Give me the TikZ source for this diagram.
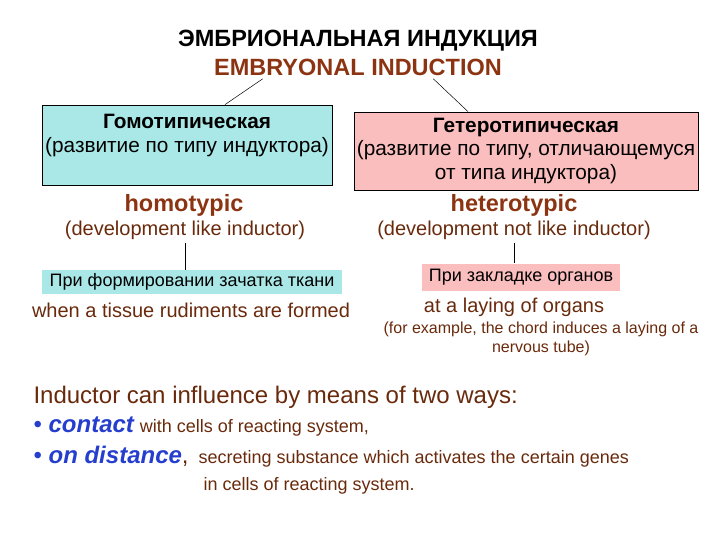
\documentclass[tikz,border=0pt]{standalone}
\usepackage{fontspec}
\setmainfont{Liberation Sans}
\usetikzlibrary{positioning}

\definecolor{brownTxt}{RGB}{105,42,12}
\definecolor{titleBrown}{RGB}{140,52,18}
\definecolor{blueTxt}{RGB}{38,62,205}
\definecolor{cyanFill}{RGB}{170,232,232}
\definecolor{pinkFill}{RGB}{250,190,190}

\tikzset{
  bigbox/.style={draw=black, line width=0.8pt, align=center, inner sep=0pt,
    font=\fontsize{20.8}{23.5}\selectfont},
  smallbox/.style={inner sep=0pt, font=\fontsize{18}{20}\selectfont},
  kind/.style={text=titleBrown, font=\bfseries\fontsize{23.5}{26}\selectfont},
  note/.style={text=brownTxt, font=\fontsize{20}{23}\selectfont},
  link/.style={draw=black, line width=0.5pt}
}

\begin{document}
\begin{tikzpicture}[x=1pt, y=-1pt]
\useasboundingbox (0,0) rectangle (720,540);

% заголовок
\node[font=\bfseries\fontsize{23.5}{26}\selectfont] (title) at (358,41) {ЭМБРИОНАЛЬНАЯ ИНДУКЦИЯ};
\node[text=titleBrown, font=\bfseries\fontsize{23.5}{26}\selectfont] (entitle) at (358,67) {EMBRYONAL INDUCTION};

% два вида индукции
\node[bigbox, fill=cyanFill, minimum width=290, minimum height=80] (homo) at (187,145)
  {\textbf{Гомотипическая}\\(развитие по типу индуктора)\\\mbox{}};
\node[bigbox, fill=pinkFill, minimum width=344, minimum height=78] (hetero) at (526,151)
  {\textbf{Гетеротипическая}\\(развитие по типу, отличающемуся\\от типа индуктора)};

% линии от заголовка
\draw[link] ([xshift=52pt]entitle.south west) -- ([xshift=38pt]homo.north);
\draw[link] ([xshift=-72pt]entitle.south east) -- ([xshift=-58pt]hetero.north);

% английские подписи
\node[kind] (homoname) at (184,205) {homotypic};
\node[note] (homodev) at (185,230) {(development like inductor)};
\node[kind] (heteroname) at (514,205) {heterotypic};
\node[note] (heterodev) at (514,230) {(development not like inductor)};

% когда происходит
\node[smallbox, fill=cyanFill, minimum width=300, minimum height=24] (form) at (192,282)
  {При формировании зачатка ткани};
\node[note] (formen) at (191,310) {when a tissue rudiments are formed};
\node[smallbox, fill=pinkFill, minimum width=198, minimum height=27] (organ) at (521,277)
  {При закладке органов};
\node[note] (organen) at (514,307) {at a laying of organs};
\node[text=brownTxt, align=center, font=\fontsize{16}{19}\selectfont] (example) at (541,339)
  {(for example, the chord induces a laying of a\\nervous tube)};

\draw[link] (homodev.south) -- (homodev.south |- form.north);
\draw[link] (heterodev.south) -- (heterodev.south |- organ.north);

% способы влияния индуктора
\node[anchor=west, text=brownTxt, font=\fontsize{24}{28}\selectfont] (ways) at (30,397)
  {Inductor can influence by means of two ways:};
\node[anchor=west, text=brownTxt, font=\fontsize{18}{21}\selectfont] (contact) at (30,427)
  {\textcolor{blueTxt}{\fontsize{24}{28}\selectfont • \textbf{\textit{contact}}} with cells of reacting system,};
\node[anchor=west, text=brownTxt, font=\fontsize{18}{21}\selectfont] (distance) at (30,457)
  {\textcolor{blueTxt}{\fontsize{24}{28}\selectfont • \textbf{\textit{on distance}}}{\fontsize{24}{28}\selectfont,}\ \ secreting substance which activates the certain genes};
\node[anchor=west, text=brownTxt, font=\fontsize{18}{21}\selectfont] (distance2) at (200,486)
  {in cells of reacting system.};

\end{tikzpicture}
\end{document}
